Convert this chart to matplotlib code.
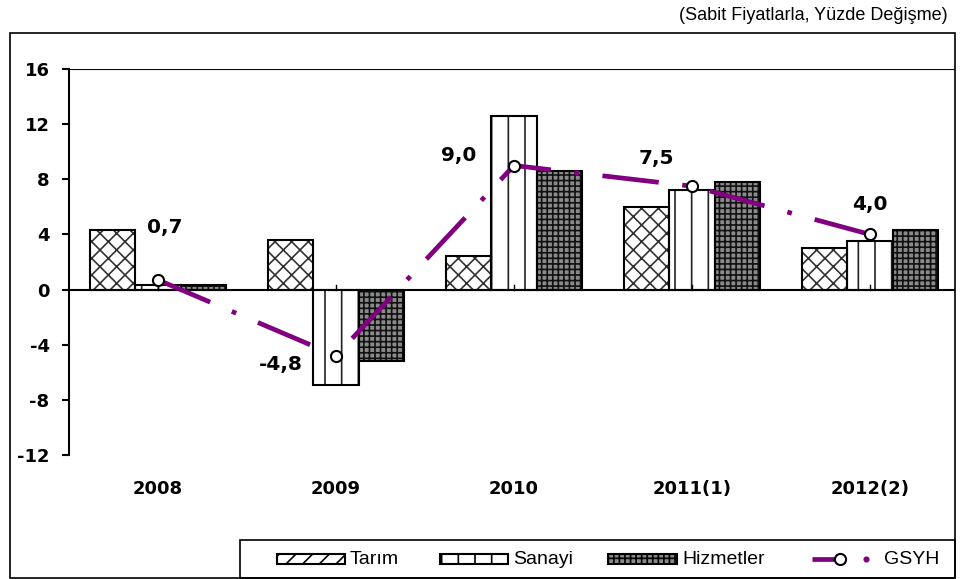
import matplotlib
matplotlib.use("Agg")
import matplotlib.pyplot as plt
from matplotlib.patches import Rectangle
from matplotlib.lines import Line2D
import numpy as np

categories = ["2008", "2009", "2010", "2011(1)", "2012(2)"]
tarim = [4.3, 3.6, 2.4, 6.0, 3.0]
sanayi = [0.3, -6.9, 12.6, 7.2, 3.5]
hizmetler = [0.3, -5.2, 8.6, 7.8, 4.3]
gsyh = [0.7, -4.8, 9.0, 7.5, 4.0]
gsyh_labels = ["0,7", "-4,8", "9,0", "7,5", "4,0"]
yticks = [-12, -8, -4, 0, 4, 8, 12, 16]
legend_labels = ["Tarım", "Sanayi", "Hizmetler", "GSYH"]

W, H = 963, 579
fig = plt.figure(figsize=(W/100, H/100), dpi=100)
fig.patch.set_facecolor("white")

def fx(px):
    return px / W

def fy(py):
    return 1 - py / H

# outer border
fig.add_artist(Rectangle((fx(10), fy(578)), (955-10)/W, (578-33)/H, transform=fig.transFigure,
                         fill=False, edgecolor="black", linewidth=1.2))

ax = fig.add_axes([fx(69), fy(455), (955-69)/W, (455-69)/H])
x = np.arange(len(categories))
bw = 0.253
purple = "#800080"
hiz_face = "#8a8a8a"
dash = (12, 5, 1, 5)

plt.rcParams['hatch.linewidth'] = 1.2
ax.bar(x - bw, tarim, bw, facecolor="white", edgecolor="#333333", hatch="xx", linewidth=0, zorder=2)
ax.bar(x - bw, tarim, bw, facecolor="none", edgecolor="black", linewidth=1.5, zorder=3)
ax.bar(x, sanayi, bw, facecolor="white", edgecolor="#222222", hatch="|", linewidth=0, zorder=2)
ax.bar(x, sanayi, bw, facecolor="none", edgecolor="black", linewidth=1.5, zorder=3)
ax.bar(x + bw, hizmetler, bw, facecolor=hiz_face, edgecolor="#111111", hatch="+++", linewidth=0, zorder=2)
ax.bar(x + bw, hizmetler, bw, facecolor="none", edgecolor="black", linewidth=1.5, zorder=3)

ax.plot(x, gsyh, color=purple, linewidth=3.4, dashes=dash, zorder=4)
ax.plot(x, gsyh, linestyle="none", marker="o", markersize=8, markerfacecolor="white",
        markeredgecolor="black", markeredgewidth=1.5, zorder=5)

offsets = [(0.04, 3.8), (-0.31, -0.6), (-0.31, 0.7), (-0.2, 2.0), (0.0, 2.2)]
for i, (lab, (dx, dy)) in enumerate(zip(gsyh_labels, offsets)):
    ax.text(x[i] + dx, gsyh[i] + dy, lab, ha="center", va="center", fontsize=14.5,
            fontweight="bold", family="DejaVu Sans", zorder=6)

ax.set_xlim(-0.5, -0.5 + 886/178)
ax.set_ylim(-12, 16)
ax.set_yticks(yticks)
ax.set_yticklabels([str(t) for t in yticks], fontsize=13, fontweight="bold")
ax.axhline(16, color="black", linewidth=1.5, zorder=1)
ax.axhline(0, color="black", linewidth=1.5, zorder=3)
for s in ["top", "right", "bottom"]:
    ax.spines[s].set_visible(False)
ax.spines["left"].set_linewidth(1.5)
ax.tick_params(axis="y", direction="out", length=5, width=1.5, pad=9)
ax.set_xticks(x)
ax.set_xticklabels(categories, fontsize=13, fontweight="bold")
ax.tick_params(axis="x", length=0, pad=18)
for xi in x:
    ax.plot([xi, xi], [0, 0.3], color="black", linewidth=1, zorder=3)

fig.text(fx(948), fy(16), "(Sabit Fiyatlarla, Yüzde Değişme)", ha="right", va="center",
         fontsize=13, family=["Liberation Sans", "DejaVu Sans"])

# legend box (drawn manually)
fig.add_artist(Rectangle((fx(240), fy(578)), (955-240)/W, (578-540)/H, transform=fig.transFigure,
                         fill=False, edgecolor="black", linewidth=1.2))
ly = 559
patch_specs = [
    (277, 345, dict(facecolor="white", edgecolor="black", hatch="//")),
    (440, 508, dict(facecolor="white", edgecolor="black", hatch="|")),
    (608, 677, dict(facecolor=hiz_face, edgecolor="black", hatch="+++")),
]
for (x0, x1, kw) in patch_specs:
    fig.add_artist(Rectangle((fx(x0), fy(ly + 5)), (x1 - x0)/W, 10/H, transform=fig.transFigure,
                             linewidth=1.5, **kw))
text_x = [350, 513, 682, 884]
for tx, lab in zip(text_x, legend_labels):
    fig.text(fx(tx), fy(ly), lab, ha="left", va="center", fontsize=14,
             family=["Liberation Sans", "DejaVu Sans"])
fig.add_artist(Line2D([fx(812), fx(840)], [fy(ly), fy(ly)], transform=fig.transFigure,
                      color=purple, linewidth=3.4, solid_capstyle="butt"))
fig.add_artist(Line2D([fx(866)], [fy(ly)], transform=fig.transFigure, linestyle="none",
                      marker="o", markersize=3.4, color=purple))
fig.add_artist(Line2D([fx(840)], [fy(ly)], transform=fig.transFigure, linestyle="none",
                      marker="o", markersize=8, markerfacecolor="white",
                      markeredgecolor="black", markeredgewidth=1.5))

fig.savefig("out.png", dpi=100)
